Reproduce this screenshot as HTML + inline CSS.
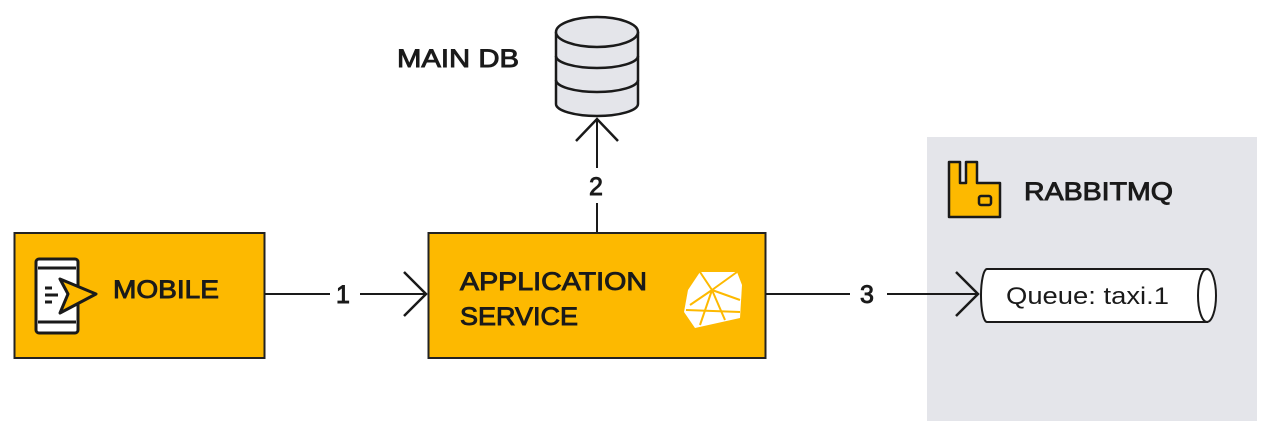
<!DOCTYPE html>
<html><head><meta charset="utf-8"><style>
html,body{margin:0;padding:0;background:#fff;width:1274px;height:437px;overflow:hidden}
text{font-family:"Liberation Sans",sans-serif;fill:#1a1a1a}
.b{font-size:25px;stroke:#1a1a1a;stroke-width:0.9px}
</style></head><body>
<svg width="1274" height="437" viewBox="0 0 1274 437" xmlns="http://www.w3.org/2000/svg">
<rect x="927" y="137" width="330" height="284" fill="#e4e5ea"/>
<!-- Mobile -->
<rect x="14.5" y="233" width="250" height="125" fill="#fdb900" stroke="#222" stroke-width="2"/>
<g stroke="#1a1a1a" stroke-width="3" fill="none">
<rect x="36" y="259" width="42" height="74" rx="3" fill="#fff"/>
<line x1="38" y1="268" x2="76" y2="268"/><line x1="38" y1="322" x2="76" y2="322"/>
<polygon points="60,279 96,294 60,313 68,294" fill="#fdb900" stroke-linejoin="round"/>
<line x1="45" y1="288" x2="52" y2="288"/><line x1="45" y1="295" x2="58" y2="295"/><line x1="45" y1="302" x2="52" y2="302"/>
</g>
<text x="113" y="298" class="b" textLength="106" lengthAdjust="spacingAndGlyphs">MOBILE</text>
<!-- arrow 1 -->
<line x1="265" y1="294" x2="330" y2="294" stroke="#1a1a1a" stroke-width="2"/>
<line x1="360" y1="294" x2="426" y2="294" stroke="#1a1a1a" stroke-width="2"/>
<polyline points="404,272 426,294 404,316" fill="none" stroke="#1a1a1a" stroke-width="2.5"/>
<text x="336" y="303" class="b">1</text>
<!-- App -->
<rect x="428.5" y="233" width="337" height="125" fill="#fdb900" stroke="#222" stroke-width="2"/>
<text x="460" y="290" class="b" textLength="187" lengthAdjust="spacingAndGlyphs">APPLICATION</text>
<text x="460" y="325" class="b" textLength="118" lengthAdjust="spacingAndGlyphs">SERVICE</text>
<g>
<path d="M700 272 L737 272 L742 285 L740 318 L695 328 L684 312 L688 290 Z" fill="#fff"/>
<g stroke="#fdb900" stroke-width="2" fill="none">
<line x1="700" y1="272" x2="712" y2="290"/><line x1="737" y1="272" x2="712" y2="290"/>
<line x1="712" y1="290" x2="690" y2="305"/><line x1="712" y1="290" x2="740" y2="300"/>
<line x1="712" y1="290" x2="700" y2="325"/><line x1="712" y1="290" x2="725" y2="320"/>
<line x1="686" y1="310" x2="740" y2="312"/>
</g></g>
<!-- arrow 2 -->
<line x1="597" y1="232" x2="597" y2="203" stroke="#1a1a1a" stroke-width="2"/>
<line x1="597" y1="168" x2="597" y2="119" stroke="#1a1a1a" stroke-width="2"/>
<polyline points="576,141 597,119 618,141" fill="none" stroke="#1a1a1a" stroke-width="2.5"/>
<text x="589" y="195" class="b">2</text>
<!-- DB -->
<g stroke="#1a1a1a" stroke-width="2.5" fill="#e4e5ea">
<path d="M556 32 L556 104 A41 12 0 0 0 638 104 L638 32"/>
<ellipse cx="597" cy="32" rx="41" ry="15"/>
<path d="M556 56 A41 12 0 0 0 638 56" fill="none"/>
<path d="M556 80 A41 12 0 0 0 638 80" fill="none"/>
</g>
<text x="397" y="67" class="b" textLength="122" lengthAdjust="spacingAndGlyphs">MAIN DB</text>
<!-- arrow 3 -->
<line x1="766" y1="294" x2="850" y2="294" stroke="#1a1a1a" stroke-width="2"/>
<line x1="887" y1="294" x2="978" y2="294" stroke="#1a1a1a" stroke-width="2"/>
<polyline points="956,272 978,294 956,316" fill="none" stroke="#1a1a1a" stroke-width="2.5"/>
<text x="860" y="303" class="b">3</text>
<!-- Queue -->
<path d="M987 269 L1207 269 L1207 322 L987 322 A6 26.5 0 0 1 987 269 Z" fill="#fff" stroke="#1a1a1a" stroke-width="2"/>
<ellipse cx="1207" cy="295.5" rx="9" ry="26.5" fill="#fff" stroke="#1a1a1a" stroke-width="2"/>
<text x="1006" y="304" style="font-size:24px" textLength="163" lengthAdjust="spacingAndGlyphs">Queue: taxi.1</text>
<!-- Rabbit -->
<path d="M949 162 L960 162 L960 183 L966 183 L966 162 L977 162 L977 183 L1000 183 L1000 217 L949 217 Z" fill="#fdb900" stroke="#1a1a1a" stroke-width="2.5" stroke-linejoin="round"/>
<rect x="979" y="196" width="12" height="9" rx="2" fill="#fdb900" stroke="#1a1a1a" stroke-width="2.5"/>
<text x="1024" y="200" class="b" textLength="149" lengthAdjust="spacingAndGlyphs">RABBITMQ</text>
</svg>
</body></html>
